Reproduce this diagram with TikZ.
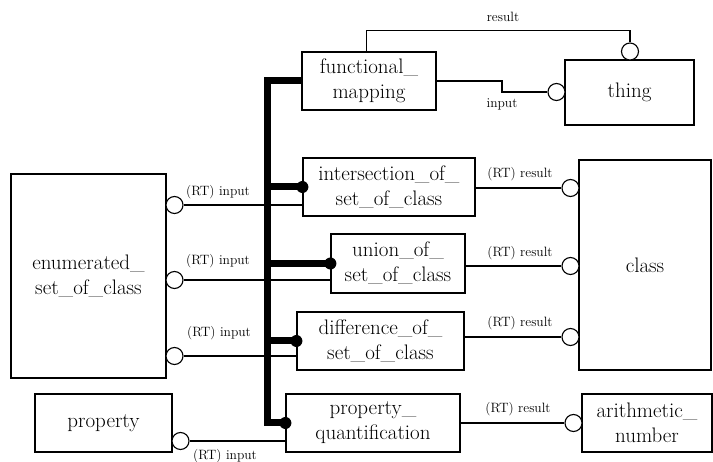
\documentclass[tikz,border=0pt]{standalone}
\begin{document}
\begin{tikzpicture}[x=1pt,y=-1pt,
  box/.style={draw,line width=1.2pt,rectangle,inner sep=0pt,align=center,
    font=\fontsize{21}{25}\selectfont},
  port/.style={draw,fill=white,line width=1.1pt,circle,inner sep=0pt,minimum size=17pt},
  dot/.style={fill,circle,inner sep=0pt,minimum size=12pt},
  conn/.style={line width=1.1pt},
  bus/.style={line width=7pt,line join=miter},
  lbl/.style={font=\fontsize{13.5}{15}\selectfont,inner sep=0pt}]
\useasboundingbox (0,0) rectangle (713,462);
% boxes
\node[box,minimum width=134pt,minimum height=58pt] (fm) at (369,81) {functional\_\\mapping};
\node[box,minimum width=129pt,minimum height=65pt] (thing) at (629.5,92.5) {thing};
\node[box,minimum width=155pt,minimum height=204pt] (enum) at (88.5,276) {enumerated\_\\set\_of\_class};
\node[box,minimum width=172pt,minimum height=58pt] (inter) at (389,187) {intersection\_of\_\\set\_of\_class};
\node[box,minimum width=134pt,minimum height=59pt] (union) at (398,263.5) {union\_of\_\\set\_of\_class};
\node[box,minimum width=167pt,minimum height=58pt] (diff) at (380.5,341) {difference\_of\_\\set\_of\_class};
\node[box,minimum width=132pt,minimum height=210pt] (class) at (645,265) {class};
\node[box,minimum width=137pt,minimum height=58pt] (prop) at (103.5,423) {property};
\node[box,minimum width=174pt,minimum height=58pt] (pq) at (373,423) {property\_\\quantification};
\node[box,minimum width=130pt,minimum height=58pt] (arith) at (647,423) {arithmetic\_\\number};
% ports
\node[port] (tr) at (630,51.5) {};
\node[port] (ti) at (556.5,92) {};
\node[port] (e1) at (174.5,205) {};
\node[port] (e2) at (174.5,280) {};
\node[port] (e3) at (174.5,356) {};
\node[port] (c1) at (570.5,188) {};
\node[port] (c2) at (570.5,266) {};
\node[port] (c3) at (570.5,337) {};
\node[port] (pp) at (180.5,441) {};
\node[port] (an) at (573.5,423) {};
% dots
\node[dot] (d1) at (inter.west) {};
\node[dot] (d2) at (union.west) {};
\node[dot] (d3) at (diff.west) {};
\node[dot] (d4) at (pq.west) {};
% bus
\coordinate (ttop) at (267,81);
\coordinate (tbot) at (267,423);
\draw[bus] (fm.west) -- (ttop) -- (tbot) -- (d4.center);
\draw[bus] (ttop |- d1) -- (d1.center);
\draw[bus] (ttop |- d2) -- (d2.center);
\draw[bus] (ttop |- d3) -- (d3.center);
% functional mapping connectors
\draw[conn] ([xshift=65pt]fm.north west) |- ([yshift=12pt]tr.north) -- (tr.north);
\coordinate (k1) at (502,92);
\draw[conn] (fm.east) -| (k1) -- (ti.west);
% inputs
\draw[conn] (e1.east) -- (e1.east -| inter.west);
\draw[conn] (e2.east) -- (e2.east -| union.west);
\draw[conn] (e3.east) -- (e3.east -| diff.west);
\draw[conn] (pp.east) -- (pp.east -| pq.west);
% results
\draw[conn] (c1.west -| inter.east) -- (c1.west);
\draw[conn] (c2.west -| union.east) -- (c2.west);
\draw[conn] (c3.west -| diff.east) -- (c3.west);
\draw[conn] (an.west -| pq.east) -- (an.west);
% labels
\node[lbl] (l1) at (503,17) {result};
\node[lbl] (l2) at (502,104) {input};
\node[lbl] (l3) at (218,192) {(RT) input};
\node[lbl] (l4) at (218,261) {(RT) input};
\node[lbl] (l5) at (219,333) {(RT) input};
\node[lbl] (l6) at (520,174) {(RT) result};
\node[lbl] (l7) at (520,253) {(RT) result};
\node[lbl] (l8) at (520,323) {(RT) result};
\node[lbl] (l9) at (518,409) {(RT) result};
\node[lbl] (l10) at (225,456) {(RT) input};
\end{tikzpicture}
\end{document}
